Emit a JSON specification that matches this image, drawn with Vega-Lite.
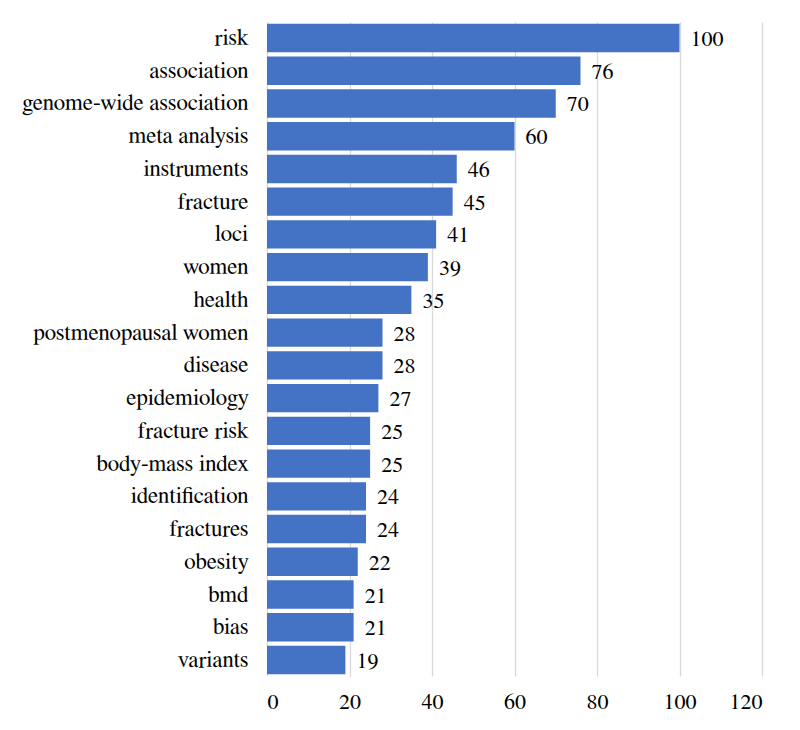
{
  "$schema": "https://vega.github.io/schema/vega-lite/v6.json",
  "width": 495,
  "height": 654,
  "autosize": "none",
  "padding": {"left": 267, "top": 22, "right": 38, "bottom": 54},
  "background": "white",
  "data": {
    "values": [
      {"term": "risk", "count": 100},
      {"term": "association", "count": 76},
      {"term": "genome-wide association", "count": 70},
      {"term": "meta analysis", "count": 60},
      {"term": "instruments", "count": 46},
      {"term": "fracture", "count": 45},
      {"term": "loci", "count": 41},
      {"term": "women", "count": 39},
      {"term": "health", "count": 35},
      {"term": "postmenopausal women", "count": 28},
      {"term": "disease", "count": 28},
      {"term": "epidemiology", "count": 27},
      {"term": "fracture risk", "count": 25},
      {"term": "body-mass index", "count": 25},
      {"term": "identification", "count": 24},
      {"term": "fractures", "count": 24},
      {"term": "obesity", "count": 22},
      {"term": "bmd", "count": 21},
      {"term": "bias", "count": 21},
      {"term": "variants", "count": 19}
    ]
  },
  "encoding": {
    "y": {
      "field": "term",
      "type": "nominal",
      "sort": null,
      "title": null,
      "scale": {"paddingInner": 0.13, "paddingOuter": 0.05},
      "axis": {"ticks": false, "domain": false, "labelPadding": 19, "labelFontSize": 23, "labelFont": "FreeSerif", "labelColor": "#000000", "labelLimit": 300}
    },
    "x": {
      "field": "count",
      "type": "quantitative",
      "title": null,
      "scale": {"domain": [0, 120]},
      "axis": {"values": [0, 20, 40, 60, 80, 100, 120], "ticks": false, "domain": false, "grid": true, "gridColor": "#d9d9d9", "gridWidth": 1.3, "labelPadding": 15, "labelFontSize": 22, "labelFont": "FreeSerif", "labelColor": "#000000"}
    }
  },
  "layer": [
    {"mark": {"type": "bar", "color": "#4472C4"}},
    {
      "mark": {"type": "text", "align": "left", "baseline": "middle", "dx": 11, "dy": 1, "fontSize": 22, "font": "FreeSerif", "color": "#000000"},
      "encoding": {"text": {"field": "count", "type": "quantitative"}}
    }
  ],
  "config": {"view": {"stroke": null}}
}
